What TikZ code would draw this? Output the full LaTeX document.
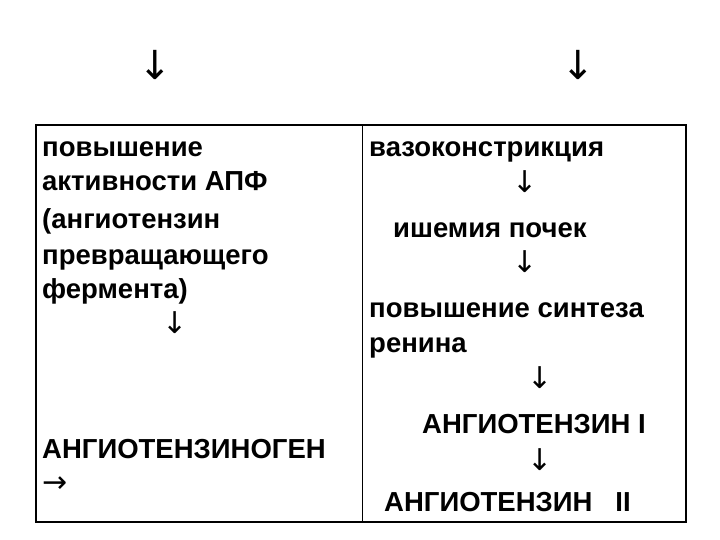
\documentclass[tikz,border=0pt]{standalone}
\usepackage{fontspec}
\setmainfont{Liberation Sans}
\newfontfamily\arr{DejaVu Sans}
\begin{document}
\begin{tikzpicture}[x=1pt,y=-1pt,
  txt/.style={anchor=base west,inner sep=0pt,font=\fontsize{27.5}{30}\selectfont\bfseries},
  ar/.style={inner sep=0pt,font=\arr\fontsize{30}{32}\selectfont\ExtraLight},
  bigar/.style={inner sep=0pt,font=\arr\fontsize{40}{42}\selectfont}]
\providecommand\ExtraLight{}
\useasboundingbox (0,0) rectangle (720,540);
\draw[line width=1.2pt] (36,125) rectangle (686,522);
\draw[line width=0.6pt] (362,125) -- (362,522);
\node[bigar] (t1) at (155,65) {↓};
\node[bigar] (t2) at (578,65) {↓};
\node[txt] (l1) at (42,157) {повышение};
\node[txt] (l2) at (42,191) {активности АПФ};
\node[txt] (l3) at (42,229) {(ангиотензин};
\node[txt] (l4) at (42,264) {превращающего};
\node[txt] (l5) at (42,298) {фермента)};
\node[ar] (la) at (175,323) {↓};
\node[txt] (l6) at (42,458) {АНГИОТЕНЗИНОГЕН};
\node[ar,anchor=west] (lb) at (42,485) {→};
\node[txt] (r1) at (369,157) {вазоконстрикция};
\node[ar] (ra1) at (525,182) {↓};
\node[txt] (r2) at (393,237) {ишемия почек};
\node[ar] (ra2) at (525,262) {↓};
\node[txt] (r3) at (369,317) {повышение синтеза};
\node[txt] (r4) at (369,352) {ренина};
\node[ar] (ra3) at (540,378) {↓};
\node[txt] (r5) at (422,433) {АНГИОТЕНЗИН I};
\node[ar] (ra4) at (540,460) {↓};
\node[txt] (r6) at (384,511) {АНГИОТЕНЗИН\ \ \ II};
\end{tikzpicture}
\end{document}
